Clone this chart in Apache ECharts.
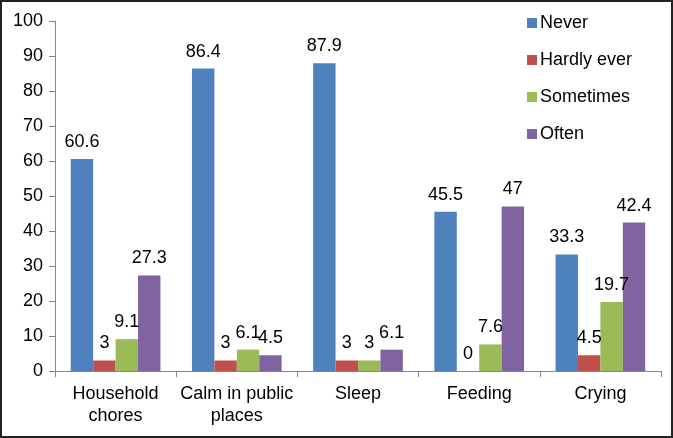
<!DOCTYPE html>
<html><head><meta charset="utf-8">
<script src="https://cdn.jsdelivr.net/npm/echarts@6/dist/echarts.min.js"></script>
<style>
html,body{margin:0;padding:0;background:#fff;}
#c{position:absolute;left:0;top:0;width:673px;height:438px;}
#b{position:absolute;left:0;top:0;width:673px;height:438px;box-sizing:border-box;border:2px solid #222;pointer-events:none;}
</style></head>
<body>
<div id="c"></div><div id="b"></div>
<script>
const categories = ["Household\nchores", "Calm in public\nplaces", "Sleep", "Feeding", "Crying"];
const seriesNames = ["Never", "Hardly ever", "Sometimes", "Often"];
const never = [60.6, 86.4, 87.9, 45.5, 33.3];
const hardlyEver = [3, 3, 3, 0, 4.5];
const sometimes = [9.1, 6.1, 3, 7.6, 19.7];
const often = [27.3, 4.5, 6.1, 47, 42.4];
const yTicks = [0, 10, 20, 30, 40, 50, 60, 70, 80, 90, 100];

const colors = ["#4F81BD", "#C0504D", "#9BBB59", "#8064A2"];
const dataSets = [never, hardlyEver, sometimes, often];
const font = "Liberation Sans, Arial, sans-serif";

const chart = echarts.init(document.getElementById('c'));
chart.setOption({
  animation: false,
  textStyle: {fontFamily: font},
  grid: {left: 55, right: 12, top: 21, bottom: 67, containLabel: false},
  legend: {
    orient: 'vertical', left: 522, top: 9,
    itemWidth: 10, itemHeight: 10, itemGap: 19, icon: 'rect',
    textStyle: {fontSize: 18, color: '#000', fontFamily: font, padding: [0,0,0,-2]},
    data: seriesNames
  },
  xAxis: {
    type: 'category', data: categories,
    axisLine: {lineStyle: {color: '#868686', width: 1}},
    axisTick: {show: true, length: 6, interval: 0, lineStyle: {color: '#868686'}},
    axisLabel: {fontSize: 18, color: '#000', margin: 12, lineHeight: 22, interval: 0, fontFamily: font}
  },
  yAxis: {
    type: 'value', min: yTicks[0], max: yTicks[yTicks.length-1], interval: 10,
    axisLine: {show: true, lineStyle: {color: '#868686', width: 1}},
    axisTick: {show: true, length: 6, lineStyle: {color: '#868686'}},
    splitLine: {show: false},
    axisLabel: {fontSize: 18, color: '#000', margin: 12, fontFamily: font}
  },
  series: seriesNames.map((n, i) => ({
    name: n, type: 'bar', data: dataSets[i],
    barGap: '0%', barCategoryGap: '26%',
    itemStyle: {color: colors[i]},
    label: {show: true, position: 'top', distance: 8, fontSize: 18, color: '#000', fontFamily: font}
  }))
});
</script>
</body></html>
